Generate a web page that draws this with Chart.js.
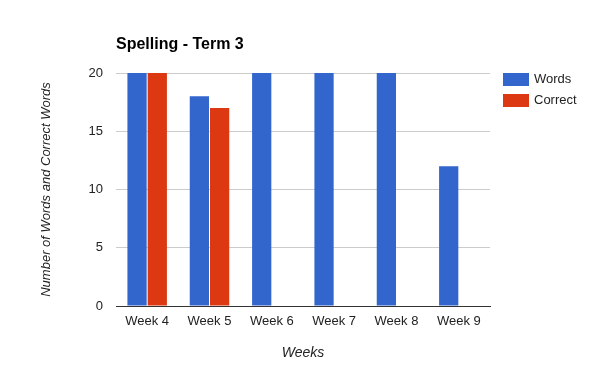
<!DOCTYPE html>
<html><head><meta charset="utf-8">
<script src="https://cdn.jsdelivr.net/npm/chart.js@4"></script>
<style>html,body{margin:0;padding:0;background:#fff}#wrap{width:605px;height:379px}</style>
</head><body><div id="wrap"><canvas id="c" width="605" height="379"></canvas></div>
<script>
const categories = ['Week 4','Week 5','Week 6','Week 7','Week 8','Week 9'];
const words = [20, 18, 20, 20, 20, 12];
const correct = [20, 17, null, null, null, null];
const yTicks = [0, 5, 10, 15, 20];
const seriesNames = ['Words', 'Correct'];
const colors = ['#3366cc', '#dc3912'];
const FONT = '"Liberation Sans", Arial, sans-serif';

const customDecor = {
  id: 'customDecor',
  afterDraw(chart) {
    const ctx = chart.ctx;
    const ca = chart.chartArea;
    ctx.save();
    ctx.fillStyle = '#000';
    ctx.font = 'bold 16px ' + FONT;
    ctx.textBaseline = 'alphabetic';
    ctx.textAlign = 'left';
    ctx.fillText('Spelling - Term 3', ca.left, 48.5);
    ctx.font = '13px ' + FONT;
    ctx.textBaseline = 'middle';
    chart.data.datasets.forEach((ds, i) => {
      const y = 73 + i * 21;
      ctx.fillStyle = ds.backgroundColor;
      ctx.fillRect(503, y, 26, 13);
      ctx.fillStyle = '#222';
      ctx.fillText(ds.label, 534, y + 6.5);
    });
    ctx.restore();
  }
};

new Chart(document.getElementById('c'), {
  type: 'bar',
  data: {
    labels: categories,
    datasets: [
      { label: seriesNames[0], data: words, backgroundColor: colors[0] },
      { label: seriesNames[1], data: correct, backgroundColor: colors[1] }
    ]
  },
  options: {
    responsive: false,
    animation: false,
    devicePixelRatio: 1,
    layout: { padding: { top: 73, right: 115, left: 0, bottom: 0 } },
    datasets: { bar: { categoryPercentage: 0.65, barPercentage: 0.95 } },
    plugins: { legend: { display: false }, tooltip: { enabled: false }, title: { display: false } },
    scales: {
      x: {
        afterFit(s) { s.height = 73; },
        grid: { display: false, drawTicks: false },
        border: { display: true, color: '#333', width: 1 },
        ticks: { color: '#222', font: { family: FONT, size: 13 }, padding: 8, maxRotation: 0 },
        title: { display: true, text: 'Weeks', color: '#222', font: { family: FONT, size: 14, style: 'italic' }, padding: { top: 0, bottom: 17 } }
      },
      y: {
        min: 0, max: 20,
        afterFit(s) { s.width = 116; },
        afterBuildTicks(s) { s.ticks = yTicks.map(v => ({ value: v })); },
        grid: { color: ctx => ctx.tick && ctx.tick.value === 0 ? 'rgba(0,0,0,0)' : '#cccccc', drawTicks: false },
        border: { display: false },
        ticks: { color: '#222', font: { family: FONT, size: 13 }, padding: 13 },
        title: { display: true, text: 'Number of Words and Correct Words', color: '#222', font: { family: FONT, size: 13, style: 'italic' }, padding: { top: 39, bottom: 0 } }
      }
    }
  },
  plugins: [customDecor]
});
</script></body></html>
